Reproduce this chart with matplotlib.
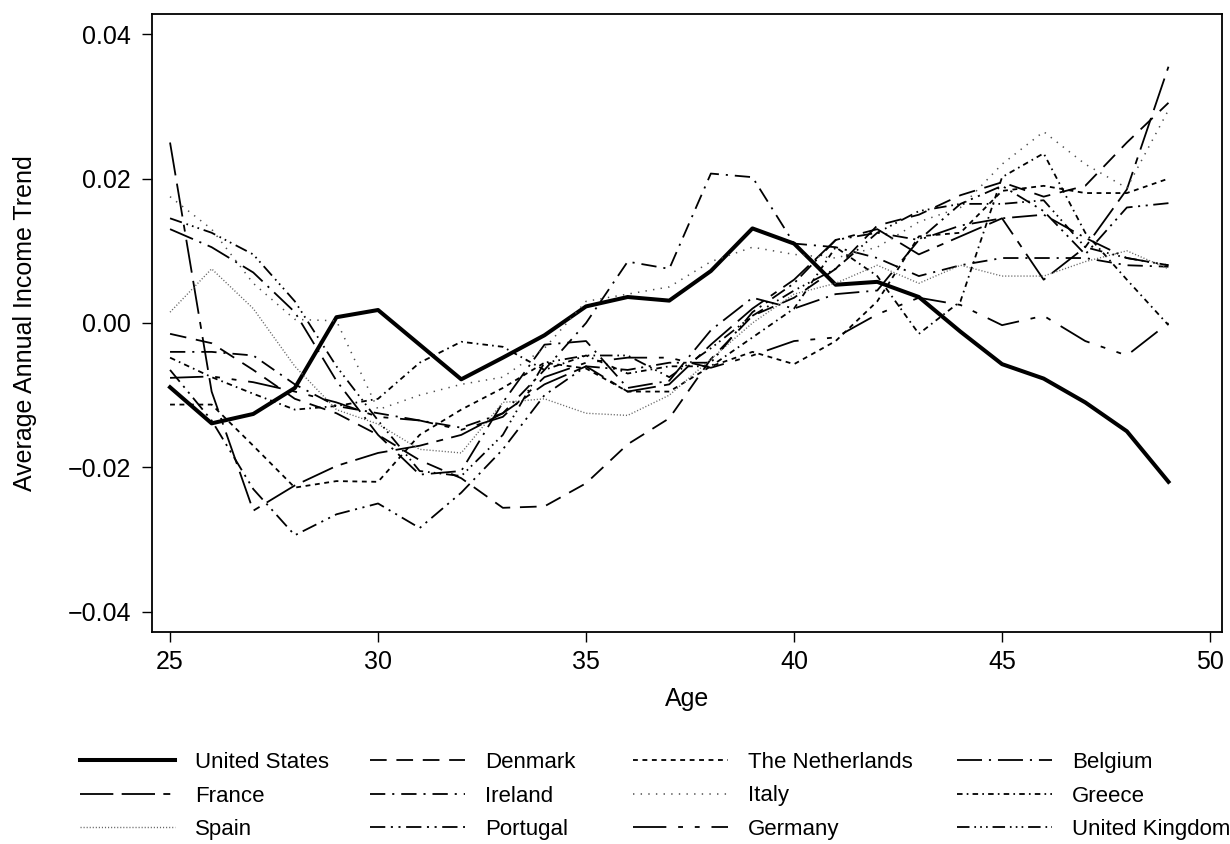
import matplotlib
matplotlib.use("Agg")
import matplotlib.pyplot as plt
import numpy as np

plt.rcParams['font.family'] = ['Liberation Sans', 'DejaVu Sans']
plt.rcParams['lines.scale_dashes'] = False
plt.rcParams['axes.unicode_minus'] = True

ages = np.arange(25, 50)

us = [-0.0089, -0.0139, -0.0126, -0.009, 0.0008, 0.0018, -0.003, -0.0078, -0.0048, -0.0017,
      0.0023, 0.0036, 0.0031, 0.0072, 0.0131, 0.011, 0.0053, 0.0057, 0.0036, -0.0012,
      -0.0057, -0.0077, -0.011, -0.015, -0.022]
denmark = [-0.0015, -0.0028, -0.0065, -0.0105, -0.0125, -0.0155, -0.019, -0.0215, -0.0256, -0.0254,
           -0.0222, -0.0168, -0.0132, -0.005, 0.001, 0.0035, 0.0075, 0.0135, 0.015, 0.0177,
           0.0195, 0.0175, 0.019, 0.025, 0.0305]
netherlands = [-0.0113, -0.0113, -0.017, -0.0228, -0.0219, -0.022, -0.0155, -0.012, -0.009, -0.0055,
               -0.0063, -0.0095, -0.0095, -0.006, -0.004, -0.0057, -0.0025, 0.003, 0.012, 0.0125,
               0.0183, 0.019, 0.018, 0.018, 0.020]
belgium = [0.013, 0.0105, 0.007, 0.0015, -0.008, -0.0155, -0.021, -0.0205, -0.011, -0.003,
           -0.0025, -0.009, -0.008, -0.001, 0.0035, 0.002, 0.004, 0.0045, 0.0115, 0.0135,
           0.0145, 0.015, 0.0118, 0.009, 0.008]
france = [0.025, -0.0095, -0.026, -0.0225, -0.0198, -0.018, -0.017, -0.0155, -0.0125, -0.0085,
          -0.006, -0.0095, -0.0085, -0.003, 0.002, 0.006, 0.0115, 0.013, 0.0095, 0.012,
          0.0145, 0.006, 0.0105, 0.0185, 0.0355]
ireland = [-0.004, -0.004, -0.0045, -0.0085, -0.0115, -0.0125, -0.0135, -0.0145, -0.0125, -0.0065,
           0.0, 0.0085, 0.0075, 0.0207, 0.0202, 0.011, 0.0105, 0.009, 0.0065, 0.008,
           0.009, 0.009, 0.009, 0.008, 0.0078]
italy = [0.0175, 0.013, 0.0055, 0.0005, 0.0003, -0.012, -0.010, -0.0085, -0.0075, -0.0035,
         0.003, 0.004, 0.005, 0.0085, 0.0105, 0.0095, 0.009, 0.0105, 0.014, 0.016,
         0.022, 0.0265, 0.022, 0.0187, 0.0295]
greece = [-0.0048, -0.0075, -0.0098, -0.012, -0.0115, -0.0105, -0.0055, -0.0026, -0.0033, -0.0065,
          -0.0045, -0.007, -0.006, -0.006, -0.002, 0.002, 0.0105, 0.0065, -0.0015, 0.003,
          0.0202, 0.0235, 0.0125, 0.006, -0.0003]
spain = [0.0015, 0.0075, 0.002, -0.006, -0.012, -0.014, -0.0175, -0.018, -0.011, -0.0105,
         -0.0125, -0.0128, -0.010, -0.005, 0.0, 0.004, 0.0055, 0.008, 0.0055, 0.008,
         0.0065, 0.0065, 0.0085, 0.010, 0.0075]
portugal = [-0.0065, -0.0135, -0.023, -0.0294, -0.0265, -0.025, -0.0284, -0.0235, -0.0175, -0.01,
            -0.006, -0.0065, -0.0055, -0.0055, 0.0015, 0.0055, 0.0115, 0.0125, 0.0115, 0.0165,
            0.019, 0.0155, 0.0095, 0.016, 0.0166]
germany = [-0.0076, -0.0074, -0.0082, -0.0095, -0.011, -0.013, -0.0135, -0.0148, -0.013, -0.0075,
           -0.0055, -0.0048, -0.0048, -0.0062, -0.0045, -0.0025, -0.002, 0.0012, 0.0035, 0.0025,
           -0.0003, 0.001, -0.0025, -0.0045, 0.0]
uk = [0.0145, 0.0125, 0.0095, 0.003, -0.006, -0.0135, -0.0205, -0.0212, -0.0155, -0.0055,
      -0.0045, -0.0045, -0.0075, -0.0035, 0.001, 0.0045, 0.0075, 0.0125, 0.0155, 0.0165,
      0.0165, 0.017, 0.0105, 0.009, 0.008]

# (label, values, dash pattern, width, colour)
series = [
    ("United States", us, '-', 2.9, 'black'),
    ("Denmark", denmark, (0, (12, 7)), 1.3, 'black'),
    ("The Netherlands", netherlands, (0, (3.5, 3.3)), 1.3, 'black'),
    ("Belgium", belgium, (0, (18, 5, 1.5, 5)), 1.3, 'black'),
    ("France", france, (0, (24, 6, 24, 6, 5, 6)), 1.3, 'black'),
    ("Ireland", ireland, (0, (11, 5, 1.5, 5)), 1.3, 'black'),
    ("Italy", italy, (0, (1, 4.5)), 1.1, '0.3'),
    ("Greece", greece, (0, (4, 3, 1.2, 3)), 1.3, 'black'),
    ("Spain", spain, (0, (0.8, 1.4)), 1.0, '0.4'),
    ("Portugal", portugal, (0, (11, 4, 1.5, 4, 1.5, 4)), 1.3, 'black'),
    ("Germany", germany, (0, (24, 8.5, 3.5, 8.5, 3.5, 8.5)), 1.3, 'black'),
    ("United Kingdom", uk, (0, (9, 3.5, 1.2, 3, 1.2, 3, 1.2, 3.5)), 1.3, 'black'),
]

fig = plt.figure(figsize=(12.3, 8.44), dpi=100)
ax = fig.add_axes([0.1236, 0.2512, 0.87, 0.7322])

lines = {}
for label, vals, ls, lw, col in series:
    ln, = ax.plot(ages, vals, linestyle=ls, linewidth=lw, color=col, label=label)
    lines[label] = ln

ax.set_xlim(24.567, 50.29)
ax.set_ylim(-0.0428, 0.0428)
ax.set_xticks([25, 30, 35, 40, 45, 50])
ax.set_yticks([-0.04, -0.02, 0.0, 0.02, 0.04])
ax.set_yticklabels(["\u22120.04", "\u22120.02", "0.00", "0.02", "0.04"])
ax.tick_params(direction='out', length=7, width=1, labelsize=18)
ax.tick_params(axis='y', pad=8)
ax.tick_params(axis='x', pad=6)
for sp in ax.spines.values():
    sp.set_linewidth(1.3)
ax.set_xlabel("Age", fontsize=18, labelpad=9)
ax.set_ylabel("Average Annual Income Trend", fontsize=18, labelpad=22)

# one legend per column, R style
columns = [["United States", "France", "Spain"],
           ["Denmark", "Ireland", "Portugal"],
           ["The Netherlands", "Italy", "Germany"],
           ["Belgium", "Greece", "United Kingdom"]]
col_x = [80, 370, 633, 957]
for cx, names in zip(col_x, columns):
    leg = fig.legend([lines[k] for k in names], names, loc='center left',
                     bbox_to_anchor=(cx / 1230, 1 - 796 / 844),
                     frameon=False, fontsize=16, handlelength=4.27,
                     labelspacing=0.55, handletextpad=0.9, borderpad=0, borderaxespad=0)

plt.savefig('out.png', dpi=100)
